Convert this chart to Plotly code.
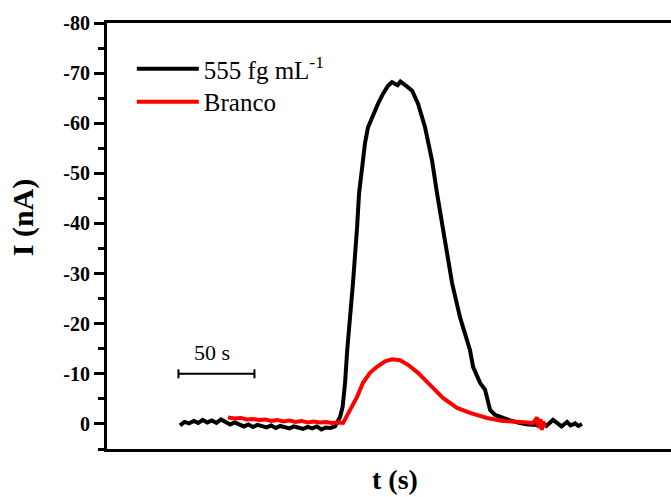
import plotly.graph_objects as go

# ---- data (t in s, I in nA) ----
black_t = [48, 51, 54, 57, 60, 63, 66, 69, 72, 75, 78, 81, 84, 87, 90, 93, 96, 99, 102, 105,
           108, 111, 114, 117, 120, 123, 126, 129, 132, 135, 138, 141, 144, 147, 150,
           152, 153.3, 155, 156.6, 158, 160, 161.8, 164.5, 165.8, 168.4, 169.7, 171.7, 174.3,
           178.3, 181.6, 184.9, 187.5, 189.5, 191.2, 193, 194.7, 197, 200.7, 204.6, 209.2,
           213.8, 217.1, 221, 224.3, 227, 232.2, 235.5, 238.8, 240.8, 245.4, 248.7, 250.7,
           252, 255.3, 259.9, 265, 271.7, 277, 282.9, 286, 289, 293.4, 296, 299, 302.6,
           305, 308, 310, 312.5]
black_i = [0.3, -0.4, -0.1, -0.6, -0.2, -0.8, -0.3, -0.7, -0.2, -0.9, -0.4, 0.1, -0.3, 0.2,
           0.5, 0.1, 0.6, 0.2, 0.4, 0.7, 0.3, 0.8, 0.4, 0.6, 0.9, 0.5, 0.7, 1.0, 0.6, 0.9,
           0.5, 1.1, 0.7, 0.8, 0.5,
           -0.6, -1.4, -3.4, -8.2, -14.7, -21.3, -28.1, -39.2, -46.0, -52.6, -56.0, -59.2,
           -61.2, -63.9, -65.9, -67.5, -68.2, -67.8, -67.6, -68.3, -68.0, -67.4, -66.5,
           -63.9, -59.2, -52.6, -46.0, -39.2, -33.3, -28.1, -21.3, -18.1, -14.7, -11.4,
           -8.2, -6.8, -4.2, -2.8, -1.8, -1.2, -0.7, -0.2, 0.1, 0.2, -0.3, 0.4, -0.8, -0.2,
           0.5, -0.4, 0.3, -0.1, 0.4, 0.0]

red_t = [79.6, 84, 88, 92, 96, 100, 104, 108, 112, 116, 120, 124, 128, 132, 136, 140, 144,
         148, 152, 155.3, 159.9, 164.5, 168.4, 173, 177.6, 182.9, 187.5, 192.8, 198, 204.6,
         212.5, 221, 230.3, 238.8, 250, 260.5, 271.7, 280.3, 283, 284, 285, 286, 287, 287.6,
         288.2]
red_i = [-1.3, -1.1, -1.2, -0.9, -1.0, -0.8, -0.9, -0.6, -0.8, -0.5, -0.7, -0.4, -0.6,
         -0.3, -0.5, -0.3, -0.4, -0.2, -0.3, -0.2, -2.8, -5.4, -8.2, -10.2, -11.4, -12.5,
         -12.9, -12.7, -11.8, -10.2, -7.8, -5.2, -3.2, -2.2, -1.2, -0.6, -0.4, -0.2, -1.3,
         0.8, -1.0, 1.2, -0.5, 0.6, 0.0]

y_ticks = [-80, -70, -60, -50, -40, -30, -20, -10, 0]
y_ticktext = ["-80", "-70", "-60", "-50", "-40", "-30", "-20", "-10", "0"]

scale_t = [47, 97]
scale_i = -10
scale_label = "50 s"

SERIF = "Liberation Serif"

fig = go.Figure()
fig.add_trace(go.Scatter(x=black_t, y=black_i, mode="lines", name="555 fg mL<sup>-1</sup>",
                         line=dict(color="black", width=4), legend="legend"))
fig.add_trace(go.Scatter(x=red_t, y=red_i, mode="lines", name="Branco",
                         line=dict(color="#ff0000", width=4), legend="legend2"))

# scale bar
fig.add_shape(type="line", x0=scale_t[0], x1=scale_t[1], y0=scale_i, y1=scale_i,
              line=dict(color="black", width=2))
for tt in scale_t:
    fig.add_shape(type="line", x0=tt, x1=tt, y0=scale_i - 0.9, y1=scale_i + 0.9,
                  line=dict(color="black", width=2))
fig.add_annotation(x=(scale_t[0] + scale_t[1]) / 2 - 3, y=scale_i - 1.3, text=scale_label,
                   showarrow=False, yanchor="bottom", xanchor="center",
                   font=dict(family=SERIF, size=22, color="black"))

# axis titles
fig.add_annotation(xref="paper", yref="paper", x=0.5106, y=-0.0715, text="<b>t (s)</b>",
                   showarrow=False, xanchor="center", yanchor="middle",
                   font=dict(family=SERIF, size=28, color="black"))
fig.add_annotation(xref="paper", yref="paper", x=-0.15, y=0.545, text="<b>I (nA)</b>",
                   textangle=-90, showarrow=False, xanchor="center", yanchor="middle",
                   font=dict(family=SERIF, size=30, color="black"))

fig.update_xaxes(range=[0, 371], showticklabels=False, ticks="", showgrid=False,
                 zeroline=False, showline=True, linecolor="black", linewidth=3,
                 mirror=True)
fig.update_yaxes(range=[5, -80], tickvals=y_ticks, ticktext=y_ticktext,
                 ticks="outside", ticklen=10, tickwidth=2.5, tickcolor="black",
                 showgrid=False, zeroline=False, showline=True, linecolor="black",
                 linewidth=3, mirror=False,
                 tickfont=dict(family=SERIF, size=20, color="black", weight="bold"),
                 minor=dict(ticks="outside", ticklen=6, tickwidth=2.5, tickcolor="black",
                            dtick=5, tick0=0, showgrid=False))

leg_common = dict(xanchor="left", yanchor="middle", bgcolor="rgba(0,0,0,0)",
                  itemwidth=62, font=dict(family=SERIF, size=25, color="black"))
fig.update_layout(
    width=671, height=497,
    margin=dict(l=107, r=0, t=23, b=48),
    paper_bgcolor="white", plot_bgcolor="white",
    showlegend=True,
    legend=dict(x=0.044, y=0.892, **leg_common),
    legend2=dict(x=0.044, y=0.8146, **leg_common),
)

fig.write_html("out.html")
